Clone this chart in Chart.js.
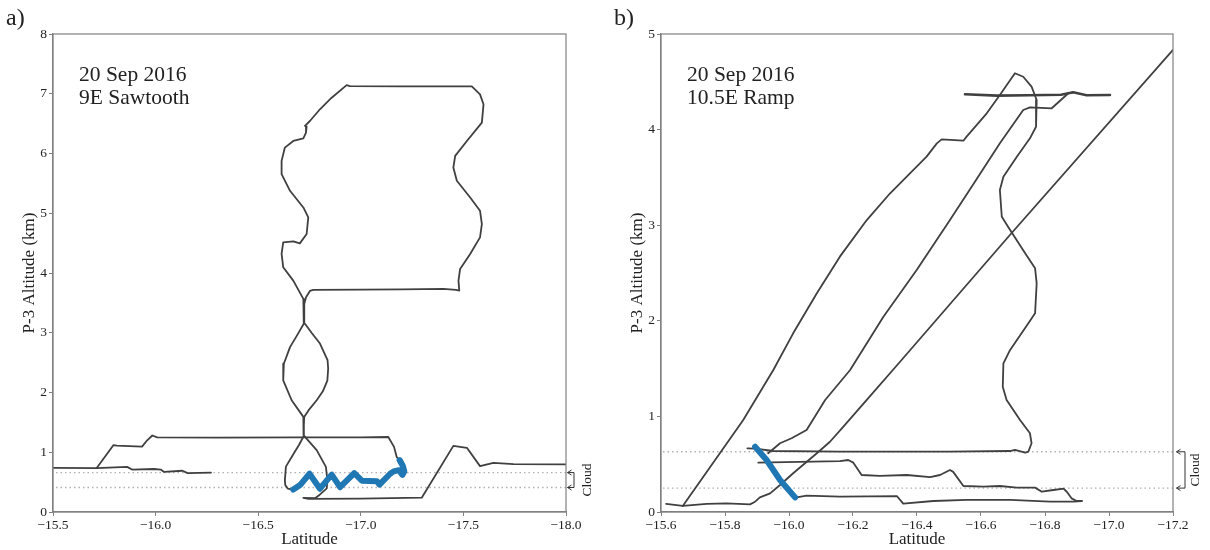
<!DOCTYPE html>
<html>
<head>
<meta charset="utf-8">
<title>P-3 flight tracks, 20 Sep 2016</title>
<script src="https://cdn.jsdelivr.net/npm/chart.js@4.4.1/dist/chart.umd.min.js"></script>
<style>
  html, body { margin: 0; padding: 0; background: #fff; }
  #wrap { position: relative; width: 1210px; height: 550px; }
  .panel { position: absolute; top: 0; width: 605px; height: 550px; }
  #panelA { left: 0; }
  #panelB { left: 605px; }
</style>
</head>
<body>
<div id="wrap">
  <div class="panel" id="panelA"><canvas id="chartA" width="605" height="550"></canvas></div>
  <div class="panel" id="panelB"><canvas id="chartB" width="605" height="550"></canvas></div>
</div>
<script>
// Track points are [latitude, altitude in km]

// ---- panel a: 9E sawtooth ----
const latRangeA = [-18.0, -15.5];
const altRangeA = [0, 8];
const cloudA = [0.41, 0.66];   // cloud base, cloud top

const sawLowWest = [
  [-15.5, 0.74], [-15.713, 0.735], [-15.861, 0.755], [-15.885, 0.71], [-15.992, 0.72],
  [-16.025, 0.71], [-16.041, 0.67], [-16.131, 0.69], [-16.156, 0.65], [-16.270, 0.66]
];

const sawLeg = [
  [-15.713, 0.735], [-15.795, 1.12], [-15.811, 1.11], [-15.934, 1.095], [-15.959, 1.2],
  [-15.984, 1.28], [-16.008, 1.25], [-16.3, 1.245], [-16.7, 1.25], [-17.0, 1.25],
  [-17.134, 1.255], [-17.162, 1.09], [-17.175, 0.92], [-17.189, 0.87]
];

const sawBlue = [
  [-17.189, 0.87], [-17.205, 0.77], [-17.212, 0.68], [-17.203, 0.62], [-17.186, 0.70],
  [-17.16, 0.68], [-17.143, 0.64], [-17.091, 0.46], [-17.078, 0.515], [-17.005, 0.525],
  [-16.968, 0.65], [-16.899, 0.415], [-16.858, 0.625], [-16.801, 0.39], [-16.750, 0.64],
  [-16.704, 0.45], [-16.671, 0.375]
];

const sawLoop = [
  [-16.671, 0.37], [-16.645, 0.39], [-16.632, 0.45], [-16.630, 0.53], [-16.635, 0.76],
  [-16.663, 0.92], [-16.700, 1.13], [-16.720, 1.26], [-16.723, 1.29], [-16.722, 1.45],
  [-16.724, 1.59], [-16.745, 1.70], [-16.785, 1.87], [-16.815, 2.02], [-16.837, 2.20],
  [-16.841, 2.40], [-16.838, 2.54], [-16.801, 2.82], [-16.76, 3.0], [-16.728, 3.15],
  [-16.724, 3.30], [-16.725, 3.48], [-16.733, 3.595], [-16.752, 3.70], [-16.768, 3.718],
  [-17.0, 3.722], [-17.2, 3.726], [-17.402, 3.735], [-17.464, 3.718], [-17.480, 3.706],
  [-17.476, 3.873], [-17.484, 4.068], [-17.533, 4.319], [-17.581, 4.596], [-17.590, 4.82],
  [-17.581, 5.042], [-17.533, 5.264], [-17.468, 5.543], [-17.451, 5.765], [-17.460, 5.96],
  [-17.517, 6.21], [-17.590, 6.516], [-17.598, 6.823], [-17.581, 6.99], [-17.541, 7.123],
  [-17.2, 7.125], [-16.947, 7.129], [-16.931, 7.145], [-16.858, 6.934], [-16.825, 6.823],
  [-16.801, 6.74], [-16.752, 6.544], [-16.728, 6.461], [-16.736, 6.45], [-16.733, 6.35],
  [-16.72, 6.255], [-16.671, 6.21], [-16.63, 6.099], [-16.614, 5.876], [-16.614, 5.654],
  [-16.655, 5.376], [-16.72, 5.097], [-16.744, 4.93], [-16.736, 4.653], [-16.703, 4.496],
  [-16.671, 4.53], [-16.622, 4.513], [-16.614, 4.319], [-16.622, 4.095], [-16.671, 3.873],
  [-16.72, 3.568], [-16.722, 3.48], [-16.722, 3.15], [-16.69, 2.96], [-16.655, 2.76],
  [-16.625, 2.482], [-16.622, 2.204], [-16.663, 1.87], [-16.72, 1.592], [-16.721, 1.285],
  [-16.728, 1.258], [-16.785, 1.035], [-16.830, 0.756], [-16.837, 0.534], [-16.834, 0.396],
  [-16.800, 0.29], [-16.777, 0.23], [-16.72, 0.235], [-16.745, 0.218], [-17.0, 0.225],
  [-17.297, 0.24], [-17.451, 1.107], [-17.517, 1.074], [-17.581, 0.768], [-17.646, 0.823],
  [-17.744, 0.80], [-18.0, 0.796]
];

// ---- panel b: 10.5E ramp ----
const latRangeB = [-17.2, -15.6];
const altRangeB = [0, 5];
const cloudB = [0.25, 0.63];

const rampClimb = [
  [-15.616, 0.084], [-15.668, 0.063], [-15.743, 0.084], [-15.805, 0.091], [-15.878, 0.08],
  [-15.894, 0.108], [-15.909, 0.153], [-15.941, 0.195], [-15.972, 0.282], [-16.013, 0.405],
  [-16.087, 0.614], [-16.128, 0.735], [-16.170, 0.892], [-16.243, 1.172], [-16.347, 1.572],
  [-16.691, 2.90], [-17.2, 4.833]
];

const rampFirst = [
  [-15.668, 0.063], [-15.857, 0.962], [-15.951, 1.485], [-16.013, 1.869], [-16.087, 2.288],
  [-16.159, 2.671], [-16.243, 3.054], [-16.316, 3.334], [-16.378, 3.543], [-16.430, 3.717],
  [-16.462, 3.856], [-16.477, 3.898], [-16.545, 3.884], [-16.555, 3.926], [-16.618, 4.17],
  [-16.659, 4.362], [-16.706, 4.589], [-16.732, 4.553], [-16.758, 4.449], [-16.774, 4.31],
  [-16.772, 4.03], [-16.753, 3.909], [-16.712, 3.717], [-16.670, 3.507], [-16.659, 3.368],
  [-16.665, 3.089], [-16.691, 2.95], [-16.738, 2.706], [-16.769, 2.549], [-16.774, 2.392],
  [-16.769, 2.078], [-16.748, 1.974], [-16.691, 1.695], [-16.670, 1.555], [-16.668, 1.311],
  [-16.680, 1.172], [-16.722, 0.962], [-16.753, 0.823], [-16.758, 0.719], [-16.748, 0.631],
  [-16.738, 0.62], [-16.706, 0.649], [-16.691, 0.638], [-16.5, 0.632], [-16.347, 0.631],
  [-16.159, 0.631], [-15.951, 0.638], [-15.894, 0.662], [-15.870, 0.666]
];

const rampSecond = [
  [-15.935, 0.614], [-15.972, 0.719], [-16.008, 0.771], [-16.055, 0.858], [-16.113, 1.172],
  [-16.191, 1.485], [-16.295, 2.043], [-16.399, 2.531], [-16.503, 3.054], [-16.580, 3.45],
  [-16.659, 3.857], [-16.732, 4.205], [-16.753, 4.233], [-16.821, 4.223], [-16.873, 4.38],
  [-16.888, 4.39]
];

const rampTop = [
  [-16.55, 4.369], [-16.65, 4.355], [-16.75, 4.36], [-16.85, 4.365], [-16.888, 4.39],
  [-16.93, 4.36], [-17.003, 4.362]
];

const rampMid = [
  [-15.904, 0.516], [-16.159, 0.533], [-16.185, 0.544], [-16.201, 0.516], [-16.227, 0.387],
  [-16.284, 0.377], [-16.368, 0.387], [-16.441, 0.365], [-16.472, 0.387], [-16.503, 0.439],
  [-16.513, 0.42], [-16.545, 0.272], [-16.608, 0.265], [-16.659, 0.272], [-16.712, 0.255],
  [-16.769, 0.255], [-16.79, 0.212], [-16.826, 0.23], [-16.858, 0.244], [-16.868, 0.212],
  [-16.883, 0.143], [-16.899, 0.115], [-16.915, 0.115]
];

const rampLow = [
  [-16.024, 0.153], [-16.055, 0.171], [-16.159, 0.16], [-16.337, 0.167], [-16.357, 0.087],
  [-16.451, 0.115], [-16.555, 0.126], [-16.691, 0.126], [-16.816, 0.108], [-16.889, 0.108],
  [-16.915, 0.115]
];

const rampBlue = [[-15.894, 0.683], [-15.93, 0.544], [-15.972, 0.335], [-16.019, 0.153]];

// ---- styling ----
const SERIF = '"Liberation Serif", "Times New Roman", serif';
const INK = '#222';
const AXIS = '#808080';
const TRACK = '#404040';
const LEG = '#1f77b4';

const fmtLat = v => (v < 0 ? '\u2212' : '') + Math.abs(v).toFixed(1);

function track(points, color, width, order) {
  return {
    data: points.map(([lat, alt]) => ({ x: lat, y: alt })),
    showLine: true,
    borderColor: color,
    borderWidth: width,
    pointRadius: 0,
    borderJoinStyle: 'round',
    borderCapStyle: 'round',
    tension: 0,
    order: order
  };
}

function cloudLine(alt, latRange) {
  return {
    data: latRange.map(lat => ({ x: lat, y: alt })),
    showLine: true,
    borderColor: '#b0b0b0',
    borderWidth: 1.3,
    borderDash: [1.5, 3],
    pointRadius: 0,
    order: 5
  };
}

// box around the plot, text block, panel letter and the cloud bracket
const decorations = {
  id: 'decorations',
  afterDraw(chart, args, opts) {
    const { ctx, chartArea: a } = chart;
    const y = chart.scales.y;
    ctx.save();
    ctx.strokeStyle = AXIS;
    ctx.lineWidth = 1.2;
    ctx.strokeRect(a.left, a.top, a.right - a.left, a.bottom - a.top);

    ctx.fillStyle = INK;
    ctx.font = '21.5px ' + SERIF;
    ctx.textBaseline = 'alphabetic';
    opts.lines.forEach((t, i) => ctx.fillText(t, a.left + 26, a.top + 47 + i * 23));

    ctx.font = '24px ' + SERIF;
    ctx.fillText(opts.letter, a.left - 47, 25);

    const yTop = y.getPixelForValue(opts.cloud[1]);
    const yBase = y.getPixelForValue(opts.cloud[0]);
    const tip = a.right + opts.tipGap;
    const bar = a.right + opts.barGap;
    ctx.strokeStyle = '#333';
    ctx.lineWidth = 1;
    ctx.beginPath();
    ctx.moveTo(tip, yTop);
    ctx.lineTo(bar, yTop);
    ctx.lineTo(bar, yBase);
    ctx.lineTo(tip, yBase);
    ctx.stroke();
    [yTop, yBase].forEach(py => {
      ctx.beginPath();
      ctx.moveTo(tip + 4, py - 2.5);
      ctx.lineTo(tip, py);
      ctx.lineTo(tip + 4, py + 2.5);
      ctx.stroke();
    });

    ctx.translate(a.right + opts.labelGap, (yTop + yBase) / 2);
    ctx.rotate(-Math.PI / 2);
    ctx.font = '13.5px ' + SERIF;
    ctx.textAlign = 'center';
    ctx.textBaseline = 'middle';
    ctx.fillText('Cloud', 0, 0);
    ctx.restore();
  }
};

function buildChart(canvasId, cfg) {
  const tickFont = { family: SERIF, size: 13.5 };
  const titleFont = { family: SERIF, size: 17 };
  return new Chart(document.getElementById(canvasId), {
    type: 'scatter',
    data: { datasets: cfg.datasets },
    plugins: [decorations],
    options: {
      responsive: false,
      animation: false,
      devicePixelRatio: 1,
      layout: { padding: { left: 0, top: 34, right: cfg.padRight, bottom: 0 } },
      plugins: {
        legend: { display: false },
        tooltip: { enabled: false },
        decorations: cfg.decor
      },
      scales: {
        x: {
          type: 'linear',
          reverse: true,
          min: cfg.latRange[0],
          max: cfg.latRange[1],
          afterFit: s => { s.height = 38; },
          border: { display: true, color: AXIS, width: 1.2 },
          grid: { drawOnChartArea: false, drawTicks: true, tickLength: 4, color: AXIS },
          ticks: {
            stepSize: cfg.latStep, autoSkip: false, maxRotation: 0, padding: 1,
            color: INK, font: tickFont, callback: v => fmtLat(v)
          },
          title: { display: true, text: 'Latitude', color: INK, font: titleFont, padding: { top: 0, bottom: 0 } }
        },
        y: {
          type: 'linear',
          min: cfg.altRange[0],
          max: cfg.altRange[1],
          afterFit: s => { s.width = cfg.yWidth; },
          border: { display: true, color: AXIS, width: 1.2 },
          grid: { drawOnChartArea: false, drawTicks: true, tickLength: 4, color: AXIS },
          ticks: { stepSize: 1, padding: 2, color: INK, font: tickFont, callback: v => String(v) },
          title: {
            display: true, text: 'P-3 Altitude (km)', color: INK, font: titleFont,
            padding: { top: cfg.yTitlePad, bottom: 0 }
          }
        }
      }
    }
  });
}

buildChart('chartA', {
  latRange: latRangeA, altRange: altRangeA, latStep: 0.5,
  yWidth: 53, padRight: 39, yTitlePad: 19,
  datasets: [
    track(sawBlue, LEG, 6, 0),
    track(sawLowWest, TRACK, 1.8, 1),
    track(sawLeg, TRACK, 1.8, 1),
    track(sawLoop, TRACK, 1.8, 1),
    cloudLine(cloudA[0], latRangeA),
    cloudLine(cloudA[1], latRangeA)
  ],
  decor: { lines: ['20 Sep 2016', '9E Sawtooth'], letter: 'a)', cloud: cloudA, tipGap: 1.5, barGap: 8, labelGap: 21 }
});

buildChart('chartB', {
  latRange: latRangeB, altRange: altRangeB, latStep: 0.2,
  yWidth: 56, padRight: 37, yTitlePad: 22,
  datasets: [
    track(rampBlue, LEG, 6, 0),
    track(rampClimb, TRACK, 1.8, 1),
    track(rampFirst, TRACK, 1.8, 1),
    track(rampSecond, TRACK, 1.8, 1),
    track(rampTop, TRACK, 2.6, 1),
    track(rampMid, TRACK, 1.8, 1),
    track(rampLow, TRACK, 1.8, 1),
    cloudLine(cloudB[0], latRangeB),
    cloudLine(cloudB[1], latRangeB)
  ],
  decor: { lines: ['20 Sep 2016', '10.5E Ramp'], letter: 'b)', cloud: cloudB, tipGap: 3.5, barGap: 12, labelGap: 22 }
});
</script>
</body>
</html>
